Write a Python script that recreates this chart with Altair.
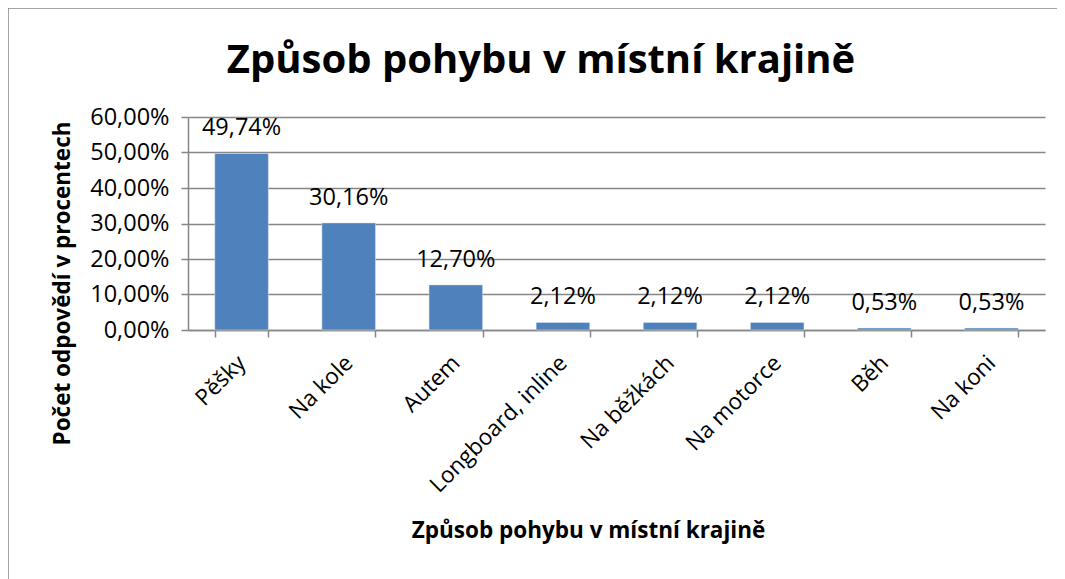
import altair as alt
import pandas as pd

categories = ["Pěšky", "Na kole", "Autem", "Longboard, inline", "Na běžkách", "Na motorce", "Běh", "Na koni"]
values = [49.74, 30.16, 12.70, 2.12, 2.12, 2.12, 0.53, 0.53]
y_ticks = [0, 0.1, 0.2, 0.3, 0.4, 0.5, 0.6]
title_text = "Způsob pohybu v místní krajině"

df = pd.DataFrame({"cat": categories, "val": [v / 100 for v in values]})

FONT = "Open Sans"
GRAY = "#868686"
FS = 23.5

x_enc = alt.X("cat:N", sort=categories,
              scale=alt.Scale(paddingInner=0.5, paddingOuter=0.25),
              axis=alt.Axis(title="Způsob pohybu v místní krajině", labelAngle=-45,
                            labelAlign="right", labelBaseline="middle", labelLimit=400,
                            labelFontSize=22.5, labelFont=FONT, labelColor="black",
                            labelPadding=22, tickSize=7, tickBand="extent",
                            tickColor=GRAY, domainColor=GRAY, tickWidth=1.5, domainWidth=1.5,
                            titleFont=FONT, titleFontSize=22.5, titleFontWeight="bold",
                            titleColor="black", titleX=400, titleY=200,
                            titleBaseline="middle", titleAlign="center"))
y_enc = alt.Y("val:Q", scale=alt.Scale(domain=[0, 0.6], nice=False),
              axis=alt.Axis(title="Počet odpovědí v procentech", values=y_ticks,
                            labelExpr="replace(format(datum.value, '.2%'), '.', ',')",
                            labelFontSize=FS, labelFont=FONT, labelColor="black",
                            labelPadding=12, tickSize=7, tickColor=GRAY,
                            labelOverlap=False, labelBaseline="middle",
                            domainColor=GRAY, gridColor=GRAY, tickWidth=1.5,
                            domainWidth=1.5, gridWidth=1.5,
                            titleFont=FONT, titleFontSize=22.5, titleFontWeight="bold",
                            titleColor="black", titleAngle=-90, titleX=-126, titleY=166,
                            titleBaseline="middle", titleAlign="center"))

base = alt.Chart(df)

bars = base.mark_bar(color="#4F81BD", stroke="#dce6f2", strokeWidth=0.5).encode(
    x=x_enc, y=y_enc,
)

labels = base.transform_calculate(
    lab="replace(format(datum.val, '.2%'), '.', ',')"
).mark_text(font=FONT, fontSize=FS, color="black", baseline="alphabetic", dy=-18).encode(
    x=x_enc, y=y_enc, text="lab:N",
)

one = pd.DataFrame({"t": [title_text]})

frame = alt.Chart(one).mark_rect(
    fill=None, stroke=GRAY, strokeWidth=1.5
).encode(x=alt.value(-180), x2=alt.value(1100), y=alt.value(-109), y2=alt.value(600))

title = alt.Chart(one).mark_text(
    font=FONT, fontSize=40, fontWeight="bold", color="black",
    baseline="alphabetic", align="center"
).encode(x=alt.value(353), y=alt.value(-44), text="t:N")

chart = alt.layer(frame, bars, labels, title).properties(
    width=857, height=213,
    padding={"left": 180, "top": 109, "right": 12, "bottom": 250},
    autosize=alt.AutoSizeParams(type="none"),
).configure_view(stroke=None)

chart.save("out.html", embed_options={"renderer": "svg", "actions": False})
